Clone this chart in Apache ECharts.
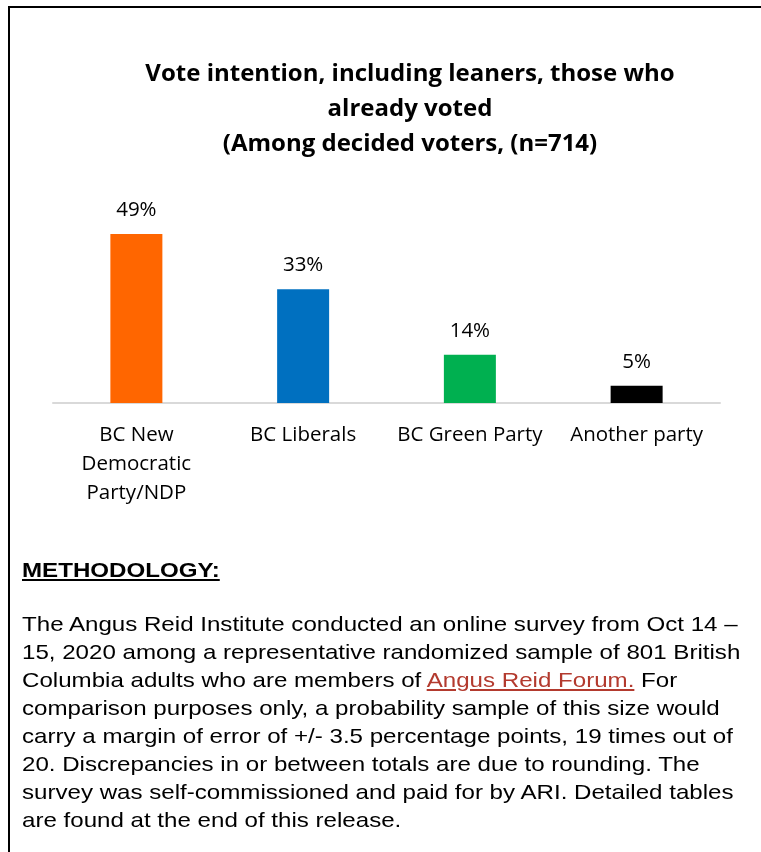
<!DOCTYPE html>
<html>
<head>
<meta charset="utf-8">
<script src="https://cdn.jsdelivr.net/npm/echarts@6/dist/echarts.min.js"></script>
<style>
  html, body { margin: 0; padding: 0; background: #fff; }
  #wrap { position: relative; width: 761px; height: 852px; overflow: hidden; background: #fff; }
  #chart { position: absolute; left: 0; top: 0; width: 761px; height: 852px; }
  .bt { position: absolute; left: 8px; top: 6px; width: 753px; height: 2px; background: #000; }
  .bl { position: absolute; left: 8px; top: 6px; width: 2px; height: 846px; background: #000; }
  #meth { position: absolute; left: 22px; top: 0; width: 730px; font-family: "Liberation Sans", Arial, sans-serif; color: #000; transform: scaleX(1.148); transform-origin: 0 0; }
  #meth .h { position: absolute; top: 556px; font-size: 21px; font-weight: bold; text-decoration: underline; white-space: nowrap; line-height: 28px; }
  #meth .b { position: absolute; top: 610px; font-size: 21px; line-height: 28px; white-space: nowrap; }
  #meth a { color: #B33A2E; text-decoration: underline; }
</style>
</head>
<body>
<div id="wrap">
  <div id="chart"></div>
  <div class="bt"></div>
  <div class="bl"></div>
  <div id="meth">
    <div class="h">METHODOLOGY:</div>
    <div class="b">The Angus Reid Institute conducted an online survey from Oct 14 –<br>15, 2020 among a representative randomized sample of 801 British<br>Columbia adults who are members of <a>Angus Reid Forum.</a> For<br>comparison purposes only, a probability sample of this size would<br>carry a margin of error of +/- 3.5 percentage points, 19 times out of<br>20. Discrepancies in or between totals are due to rounding. The<br>survey was self-commissioned and paid for by ARI. Detailed tables<br>are found at the end of this release.</div>
  </div>
</div>
<script>
const titleLines = ['Vote intention, including leaners, those who', 'already voted', '(Among decided voters, (n=714)'];
const categories = ['BC New\nDemocratic\nParty/NDP', 'BC Liberals', 'BC Green Party', 'Another party'];
const values = [49, 33, 14, 5];
const barColors = ['#FF6600', '#0070C0', '#00B050', '#000000'];

const chart = echarts.init(document.getElementById('chart'), null, { renderer: 'canvas' });
chart.setOption({
  backgroundColor: '#fff',
  animation: false,
  title: {
    text: titleLines.join('\n'),
    left: 405,
    top: 52,
    textAlign: 'center',
    textStyle: { fontFamily: 'Open Sans', fontWeight: 'bold', fontSize: 24, lineHeight: 35, color: '#000' }
  },
  grid: { left: 53, right: 41, top: 196, bottom: 449, containLabel: false },
  xAxis: {
    type: 'category',
    data: categories,
    axisLine: { show: true, lineStyle: { color: '#D9D9D9', width: 2 } },
    axisTick: { show: false },
    axisLabel: { color: '#000', fontFamily: 'Open Sans', fontSize: 20.5, lineHeight: 29, margin: 18, interval: 0, align: 'center' }
  },
  yAxis: {
    type: 'value', min: 0, max: 60,
    show: false,
    splitLine: { show: false }
  },
  series: [{
    type: 'bar',
    barWidth: 52,
    data: values.map((v, i) => ({ value: v, itemStyle: { color: barColors[i] } })),
    label: {
      show: true, position: 'top', distance: 13,
      formatter: p => p.value + '%',
      color: '#000', fontFamily: 'Open Sans', fontSize: 20.5
    }
  }]
});
</script>
</body>
</html>
